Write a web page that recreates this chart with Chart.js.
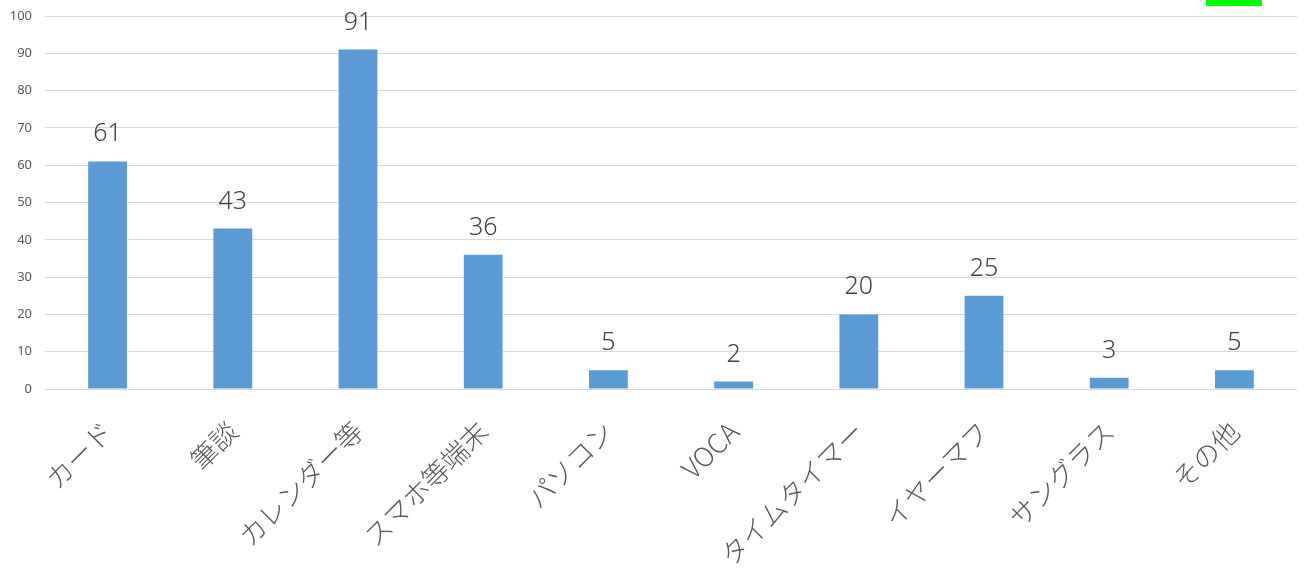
<!DOCTYPE html>
<html lang="ja">
<head>
<meta charset="utf-8">
<script src="https://cdn.jsdelivr.net/npm/chart.js@4"></script>
<style>
  html, body { margin: 0; padding: 0; background: #fff; }
  #wrap { position: relative; width: 1304px; height: 570px; }
  #marker { position: absolute; left: 1206px; top: 0; width: 56px; height: 6px; background: #00ff00; }
</style>
</head>
<body>
<div id="wrap">
  <canvas id="chart"></canvas>
  <div id="marker"></div>
</div>
<script>
// 支援ツール別の件数
const categories = ["カード", "筆談", "カレンダー等", "スマホ等端末", "パソコン", "VOCA", "タイムタイマー", "イヤーマフ", "サングラス", "その他"];
const counts = [61, 43, 91, 36, 5, 2, 20, 25, 3, 5];
const yTicks = [0, 10, 20, 30, 40, 50, 60, 70, 80, 90, 100];

const barColor = "#5b9bd5";
const gridColor = "#d9d9d9";
const textColor = "#595959";

// values above each bar
const valueLabels = {
  id: "valueLabels",
  afterDatasetsDraw(chart) {
    const { ctx } = chart;
    const meta = chart.getDatasetMeta(0);
    ctx.save();
    ctx.font = "300 25px 'Noto Sans', sans-serif";
    ctx.fillStyle = "#404040";
    ctx.textAlign = "center";
    ctx.textBaseline = "alphabetic";
    meta.data.forEach((bar, i) => {
      ctx.fillText(String(counts[i]), bar.x, bar.y - 20);
    });
    ctx.restore();
  }
};

new Chart(document.getElementById("chart"), {
  type: "bar",
  data: {
    labels: categories,
    datasets: [{
      data: counts,
      backgroundColor: barColor,
      borderWidth: 0,
      barPercentage: 0.31,
      categoryPercentage: 1
    }]
  },
  options: {
    responsive: true, maintainAspectRatio: false, animation: false,
    layout: { padding: { top: 16, right: 7, left: 0, bottom: 0 } },
    plugins: { legend: { display: false }, tooltip: { enabled: false } },
    scales: {
      x: {
        grid: { display: false },
        border: { display: false },
        ticks: {
          color: textColor, minRotation: 45, maxRotation: 45, padding: 18,
          font: { family: "'Noto Sans CJK JP', sans-serif", size: 27, weight: 300 }
        },
        afterFit: s => { s.height = 181; }
      },
      y: {
        min: 0, max: 100,
        afterBuildTicks: s => { s.ticks = yTicks.map(v => ({ value: v })); },
        grid: { color: gridColor, lineWidth: 1, drawTicks: false },
        border: { display: false },
        ticks: {
          color: textColor, padding: 13,
          font: { family: "'Noto Sans', sans-serif", size: 13 }
        },
        afterFit: s => { s.width = 45; s.paddingTop = 0; s.paddingBottom = 0; }
      }
    }
  },
  plugins: [valueLabels]
});
</script>
</body>
</html>
